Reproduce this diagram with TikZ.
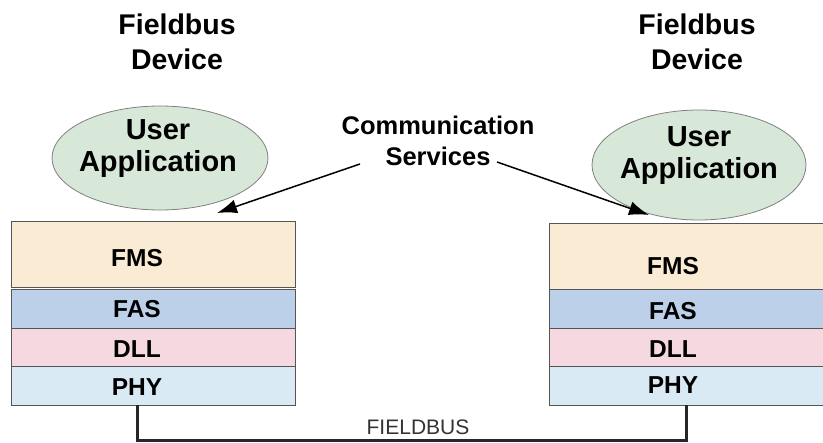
\documentclass[tikz,border=0pt]{standalone}
\usepackage{fontspec}
\setmainfont{Liberation Sans}
\usetikzlibrary{shapes.geometric,arrows.meta}
\definecolor{fmscol}{RGB}{250,235,212}
\definecolor{fascol}{RGB}{189,208,234}
\definecolor{dllcol}{RGB}{246,216,224}
\definecolor{phycol}{RGB}{218,234,245}
\definecolor{ellcol}{RGB}{216,232,216}
\definecolor{edgecol}{RGB}{85,85,85}
\tikzset{
  layer/.style={draw=edgecol, line width=1pt, rectangle, inner sep=0pt, anchor=north west},
  lbl/.style={font=\bfseries\fontsize{24.5}{26}\selectfont, anchor=base, inner sep=0pt},
  title/.style={font=\bfseries\fontsize{28.5}{35}\selectfont, align=center, inner sep=0pt},
  uapp/.style={draw=gray, line width=0.8pt, ellipse, fill=ellcol, inner sep=0pt},
  uatext/.style={font=\bfseries\fontsize{29}{32}\selectfont, align=center, anchor=base, inner sep=0pt},
  cstext/.style={font=\bfseries\fontsize{25.5}{31}\selectfont, align=center, inner sep=0pt},
  arr/.style={line width=1.5pt, -{Latex[length=20pt,width=14pt]}},
  bus/.style={line width=3pt, color=black!85},
}
\begin{document}
\begin{tikzpicture}[x=1pt,y=-1pt]
\useasboundingbox (0,0) rectangle (823,443);
% titles
\node[title] (t1) at (177,42) {Fieldbus\\Device};
\node[title] (t2) at (697,42) {Fieldbus\\Device};
% ellipses
\node[uapp, minimum width=216pt, minimum height=104pt] (e1) at (160,158) {};
\node[uapp, minimum width=214pt, minimum height=110pt] (e2) at (699,165) {};
\node[uatext] (u1) at (158,140) {User};
\node[uatext] (a1) at (158,172) {Application};
\node[uatext] (u2) at (699,147) {User};
\node[uatext] (a2) at (699,179) {Application};
% communication services
\node[cstext] (cs) at (438,141) {Communication\\Services};
\coordinate (csl) at (360,164);
\coordinate (csr) at (497,162);
\coordinate (tl) at (217,213);
\coordinate (tr) at (649,215);
\draw[arr] (csl) -- (tl);
\draw[arr] (csr) -- (tr);
% left stack
\node[layer, fill=fmscol, minimum width=284pt, minimum height=66pt] (lfms) at (11,221) {};
\node[layer, fill=fascol, minimum width=284pt, minimum height=39pt] (lfas) at (11,289) {};
\node[layer, fill=dllcol, minimum width=284pt, minimum height=38pt] (ldll) at (11,328) {};
\node[layer, fill=phycol, minimum width=284pt, minimum height=39pt] (lphy) at (11,366) {};
\node[lbl] (lfmst) at (137,267) {FMS};
\node[lbl] (lfast) at (137,318) {FAS};
\node[lbl] (ldllt) at (137,358) {DLL};
\node[lbl] (lphyt) at (137,396) {PHY};
% right stack
\node[layer, fill=fmscol, minimum width=284pt, minimum height=66pt] (rfms) at (549,223) {};
\node[layer, fill=fascol, minimum width=284pt, minimum height=39pt] (rfas) at (549,289) {};
\node[layer, fill=dllcol, minimum width=284pt, minimum height=38pt] (rdll) at (549,328) {};
\node[layer, fill=phycol, minimum width=284pt, minimum height=39pt] (rphy) at (549,366) {};
\node[lbl] (rfmst) at (673,275) {FMS};
\node[lbl] (rfast) at (673,320) {FAS};
\node[lbl] (rdllt) at (673,358) {DLL};
\node[lbl] (rphyt) at (673,394) {PHY};
% bus
\coordinate (bl) at (137,405);
\coordinate (br) at (686,405);
\draw[bus] (bl) |- (686,441) -- (br);
\node[font=\fontsize{21}{22}\selectfont, text=black!80, anchor=base, inner sep=0pt] (fb) at (418,435) {FIELDBUS};
\end{tikzpicture}
\end{document}
